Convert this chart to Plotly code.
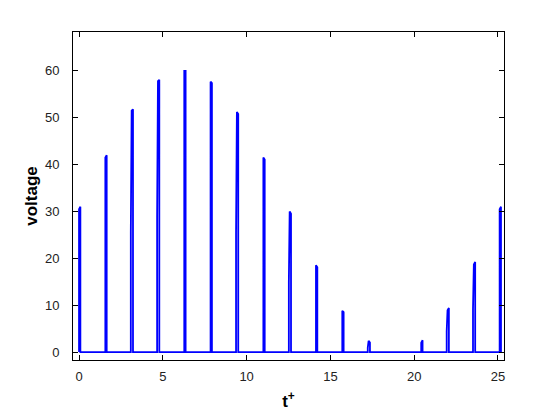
import plotly.graph_objects as go

# pulse data (left edge time, top-left, top-right, lower shoulder)
pulse_t = [0.0, 1.57, 3.14, 4.71, 6.28, 7.85, 9.42, 11.0, 12.57, 14.14,
           15.71, 17.28, 20.42, 21.99, 23.56, 25.10]
pulse_h1 = [30.5, 41.5, 51.5, 57.8, 60.0, 57.7, 51.2, 41.5, 30.0, 18.5,
            8.8, 2.4, 2.0, 8.9, 18.7, 30.5]
pulse_h2 = [31.0, 42.0, 51.8, 58.1, 60.0, 57.4, 50.8, 41.1, 29.5, 18.1,
            8.5, 2.0, 2.5, 9.4, 19.2, 31.0]
pulse_mid = [None, None, 25.6, 28.9, None, None, 25.4, None, 14.8, None,
             None, 0.9, None, 4.4, 9.2, None]

xticks = [0, 5, 10, 15, 20, 25]
yticks = [0, 10, 20, 30, 40, 50, 60]

w = 0.08
x, y = [], []
for t0, a, b, m in zip(pulse_t, pulse_h1, pulse_h2, pulse_mid):
    if m is not None:
        x += [t0 - 0.05, t0 - 0.05]
        y += [0, m]
    else:
        x.append(t0)
        y.append(0)
    x += [t0, t0 + w, t0 + w]
    y += [a, b, 0]

fig = go.Figure(go.Scatter(x=x, y=y, mode='lines',
                           line=dict(color='#0000ff', width=1.8)))

font = dict(family='Liberation Sans, Arial', size=13, color='#222')
axis = dict(showgrid=False, zeroline=False, showline=True, linecolor='black',
            linewidth=1, mirror='ticks', ticks='inside', ticklen=5,
            tickcolor='black', tickfont=font, automargin=False)
title_font = dict(family='Liberation Sans, Arial', size=17, color='black')

fig.update_layout(
    width=557, height=412,
    margin=dict(l=73, r=53, t=32, b=52),
    paper_bgcolor='white', plot_bgcolor='white',
    showlegend=False,
    xaxis=dict(axis, range=[-0.36, 25.36], tickvals=xticks, ticklabelstandoff=4,
               title=dict(text='<b>t<sup>+</sup></b>', standoff=12, font=title_font)),
    yaxis=dict(axis, range=[-1.7, 68.3], tickvals=yticks, ticklabelstandoff=10,
               title=dict(text='<b>voltage</b>', standoff=2, font=title_font)),
)

# drop the page's default body margin so the figure sits at the window's corner
fig.write_html("out.html", config={'displayModeBar': False},
               post_script="document.body.style.margin='0';")
